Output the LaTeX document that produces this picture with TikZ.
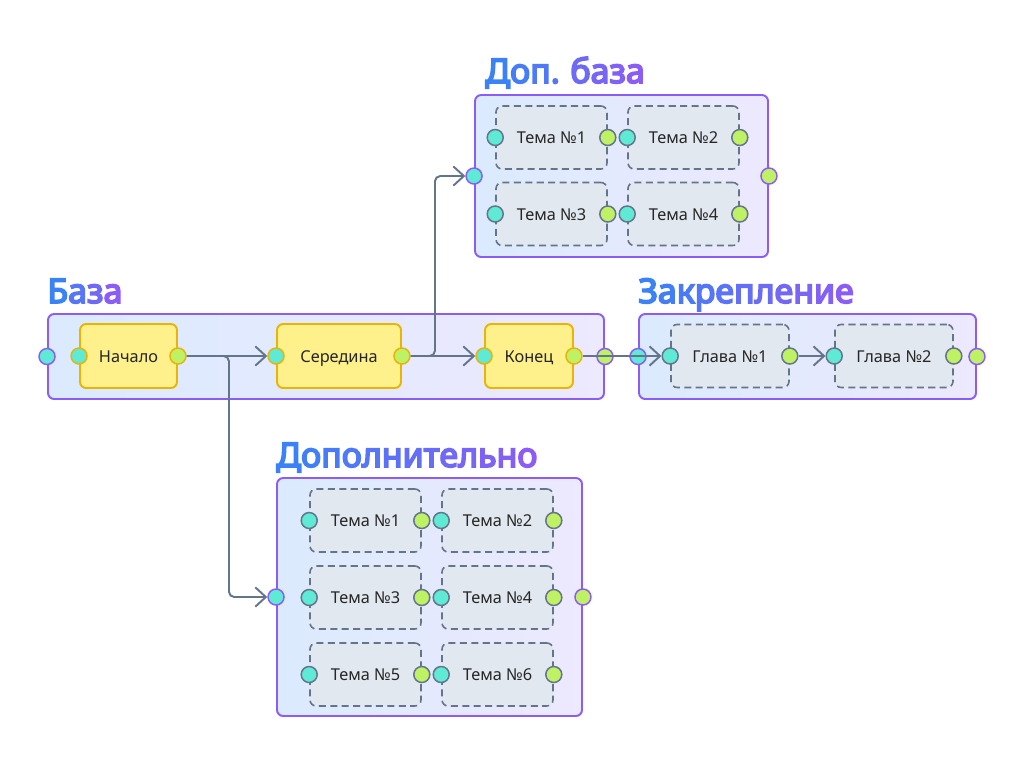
\documentclass[tikz,border=0pt]{standalone}
\usepackage{fontspec}
\setmainfont{Noto Sans}
\newfontfamily\titlefont[FakeBold=5,LetterSpace=5]{Noto Sans}
\usepackage{tikz}
\usetikzlibrary{positioning,arrows.meta,calc}
\definecolor{GroupBorder}{RGB}{139,92,246}
\definecolor{GroupLeft}{RGB}{219,234,254}
\definecolor{GroupRight}{RGB}{237,233,254}
\definecolor{StepFill}{RGB}{254,240,138}
\definecolor{StepBorder}{RGB}{234,179,8}
\definecolor{TopicFill}{RGB}{226,232,240}
\definecolor{TopicBorder}{RGB}{100,116,139}
\definecolor{PortIn}{RGB}{94,234,212}
\definecolor{PortOut}{RGB}{190,242,100}
\definecolor{LinkColor}{RGB}{100,116,139}
\definecolor{TitleStart}{RGB}{59,130,246}
\definecolor{TitleEnd}{RGB}{139,92,246}
% one pixel of the layout grid
\newcommand\pxu{0.02cm}
% titles: letters shaded from blue to purple
\newcount\tlTot
\newcount\tlIdx
\def\tlCount#1{\ifx#1\relax\else\advance\tlTot by 1\relax\expandafter\tlCount\fi}
\def\tlPaint#1{\ifx#1\relax\else\advance\tlIdx by 1\relax
  \pgfmathtruncatemacro\tlPct{100*(\tlIdx-1)/max(\tlTot-1,1)}%
  \textcolor{TitleEnd!\tlPct!TitleStart}{#1}\expandafter\tlPaint\fi}
\newcommand\gradtitle[1]{\tlTot=0 \tlCount#1\relax\tlIdx=0 \tlPaint#1\relax}
\tikzset{
  % Group frame
  groupbox/.style={
    rectangle,
    draw=GroupBorder,
    left color=GroupLeft,
    right color=GroupRight,
    line width=1.1pt,
    rounded corners=3.5pt,
    inner sep=0pt
  },
  % Group title
  grouptitle/.style={
    font=\titlefont\fontsize{19.3}{22}\selectfont,
    inner sep=0pt,
    anchor=base west
  },
  % Main step (yellow)
  stepbox/.style={
    rectangle,
    draw=StepBorder,
    fill=StepFill,
    line width=1.1pt,
    rounded corners=3.5pt,
    minimum height={64*\pxu},
    inner sep=0pt,
    text height=1.6ex,
    text depth=0.3ex,
    text=black!85,
    font=\fontsize{9.3}{11}\selectfont
  },
  % Optional topic (dashed)
  topicbox/.style={
    rectangle,
    draw=TopicBorder,
    fill=TopicFill,
    dashed,
    dash pattern=on 4pt off 2.5pt,
    line width=0.9pt,
    rounded corners=3.5pt,
    minimum width={111*\pxu},
    minimum height={63*\pxu},
    inner sep=0pt,
    text height=1.6ex,
    text depth=0.3ex,
    text=black!85,
    font=\fontsize{9.3}{11}\selectfont
  },
  % Ports
  port/.style={circle, minimum size={16*\pxu}, inner sep=0pt, line width=0.85pt, solid},
  gin/.style={port, draw=GroupBorder, fill=PortIn},
  gout/.style={port, draw=GroupBorder, fill=PortOut},
  sin/.style={port, draw=StepBorder, fill=PortIn},
  sout/.style={port, draw=StepBorder, fill=PortOut},
  tin/.style={port, draw=TopicBorder, fill=PortIn},
  tout/.style={port, draw=TopicBorder, fill=PortOut},
  % Connector
  link/.style={
    draw=LinkColor,
    line width=1.1pt,
    -{Straight Barb[length=6pt,width=11pt,line width=1.1pt]}
  }
}
\begin{document}
\begin{tikzpicture}[x=0.02cm, y=-0.02cm]
  \useasboundingbox (0,0) rectangle (1024,768);
  % Group frames
  \node[groupbox, minimum width={556*\pxu}, minimum height={85*\pxu}] (baza) at (326,356.5) {};
  \node[groupbox, minimum width={337*\pxu}, minimum height={85*\pxu}] (zakr) at (807.5,356.5) {};
  \node[groupbox, minimum width={293*\pxu}, minimum height={162*\pxu}] (dopb) at (621.5,176) {};
  \node[groupbox, minimum width={305*\pxu}, minimum height={238*\pxu}] (dop) at (429.5,597) {};
  % Titles
  \node[grouptitle] (baza-title) at (47,303) {\gradtitle{База}};
  \node[grouptitle] (zakr-title) at (638,303) {\gradtitle{Закрепление}};
  \node[grouptitle] (dopb-title) at (485,83) {\gradtitle{Доп.~база}};
  \node[grouptitle] (dop-title) at (276,467) {\gradtitle{Дополнительно}};
  % Main steps
  \node[stepbox, minimum width={97*\pxu}] (nach) at (128.5,356) {Начало};
  \node[stepbox, minimum width={124*\pxu}] (sered) at (339,356) {Середина};
  \node[stepbox, minimum width={88*\pxu}] (kon) at (529,356) {Конец};
  \foreach \s in {nach, sered, kon} {
    \node[sin] (\s-in) at (\s.west) {};
    \node[sout] (\s-out) at (\s.east) {};
  }
  % Chapters
  \node[topicbox, minimum width={118*\pxu}] (gl1) at (730,356) {Глава №1};
  \node[topicbox, minimum width={118*\pxu}] (gl2) at (894,356) {Глава №2};
  % Topics of the extra base
  \foreach \r in {1,2} {
    \foreach \c in {1,2} {
      \pgfmathtruncatemacro\n{2*(\r-1)+\c}
      \node[topicbox] (dopb-t\n) at ({551.5+132*(\c-1)},{137.5+76.5*(\r-1)}) {Тема №\n};
    }
  }
  % Topics of the extra part
  \foreach \r in {1,2,3} {
    \foreach \c in {1,2} {
      \pgfmathtruncatemacro\n{2*(\r-1)+\c}
      \node[topicbox] (dop-t\n) at ({365.5+132*(\c-1)},{520.5+77*(\r-1)}) {Тема №\n};
    }
  }
  % Topic ports
  \foreach \t in {gl1, gl2, dopb-t1, dopb-t2, dopb-t3, dopb-t4,
                  dop-t1, dop-t2, dop-t3, dop-t4, dop-t5, dop-t6} {
    \node[tin] (\t-in) at (\t.west) {};
    \node[tout] (\t-out) at (\t.east) {};
  }
  % Group ports
  \foreach \g in {baza, zakr, dopb, dop} {
    \node[gin] (\g-in) at (\g.west) {};
    \node[gout] (\g-out) at (\g.east) {};
  }
  % Connectors
  \draw[link] (nach-out) -- (sered-in);
  \draw[link, rounded corners=3pt] (nach-out) -- ++(51,0) |- (dop-in);
  \draw[link] (sered-out) -- (kon-in);
  \draw[link, rounded corners=3pt] (sered-out) -- ++(33,0) |- (dopb-in);
  \draw[link] (kon-out) -- (gl1-in);
  \draw[link] (gl1-out) -- (gl2-in);
\end{tikzpicture}
\end{document}
